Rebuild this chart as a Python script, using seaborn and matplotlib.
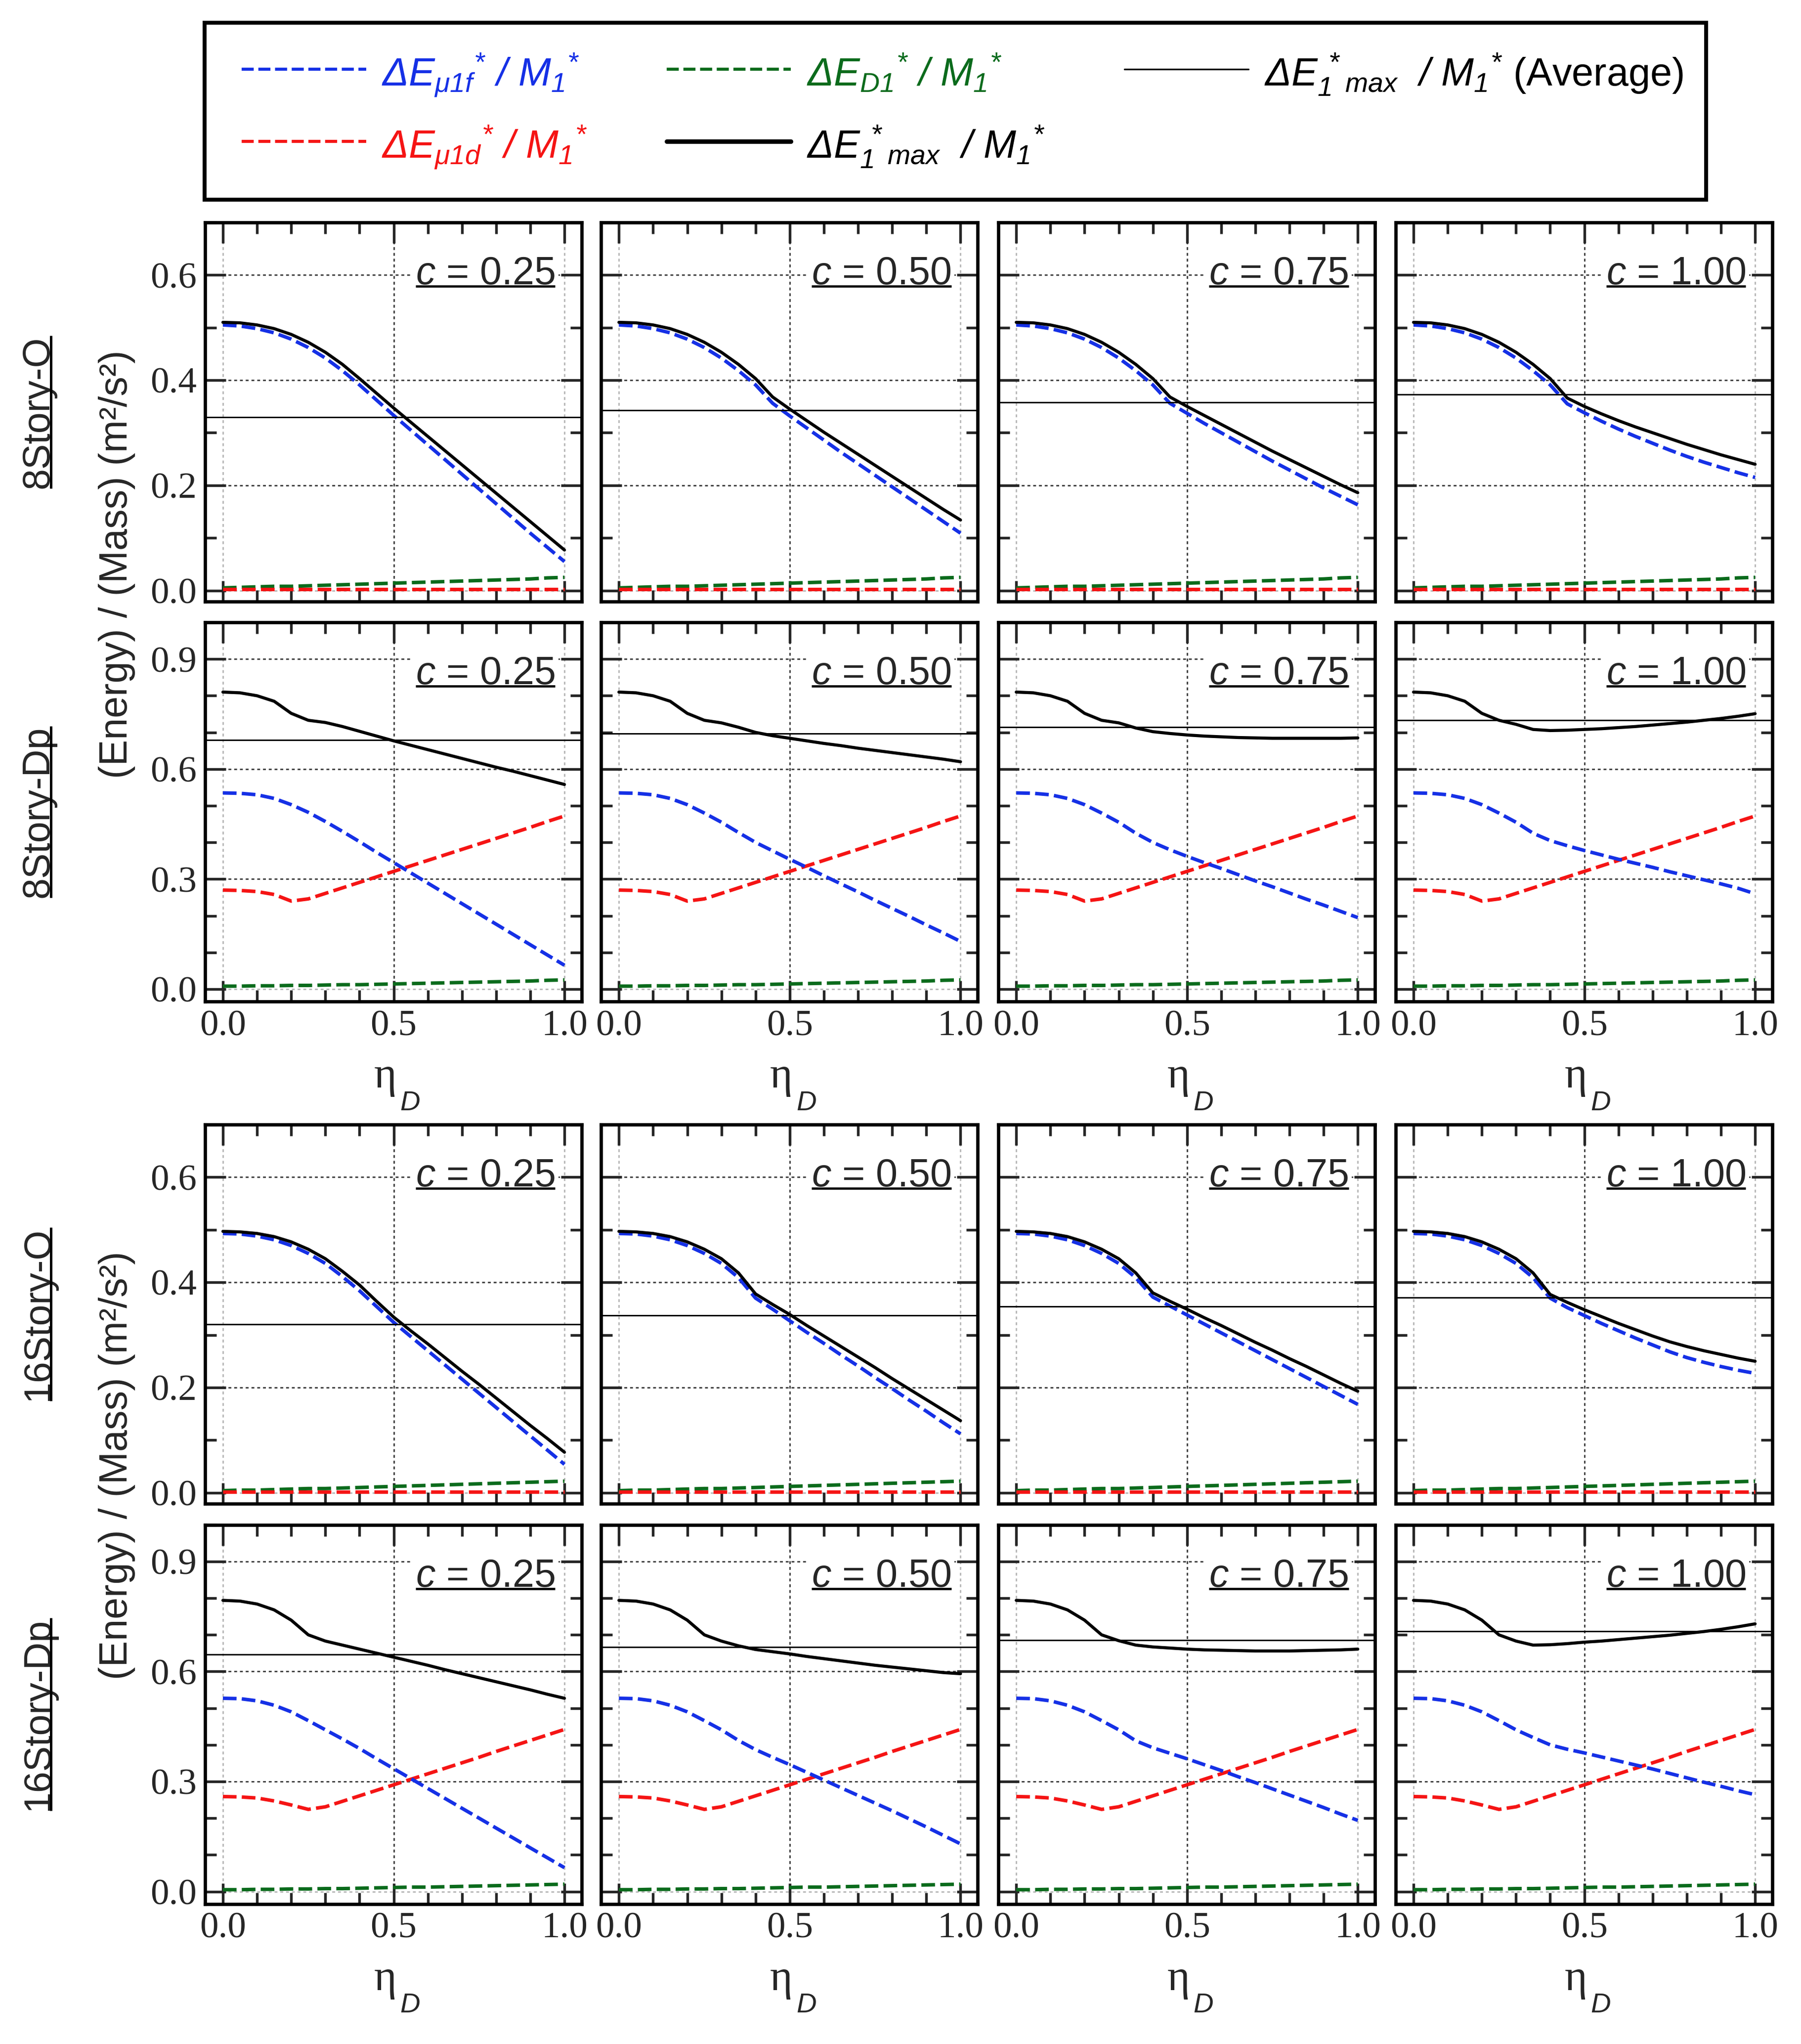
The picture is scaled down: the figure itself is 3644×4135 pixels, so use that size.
import matplotlib
matplotlib.use('Agg')
import matplotlib.pyplot as plt
import seaborn as sns
from matplotlib import font_manager
from matplotlib.lines import Line2D
from matplotlib.patches import Rectangle
from matplotlib.ticker import MultipleLocator, FormatStrFormatter

# eta_D grid shared by every panel
ETA = [0.00, 0.05, 0.10, 0.15, 0.20, 0.25, 0.30, 0.35, 0.40, 0.45, 0.50,
       0.55, 0.60, 0.65, 0.70, 0.75, 0.80, 0.85, 0.90, 0.95, 1.00]
C_TEXT = ['0.25', '0.50', '0.75', '1.00']

# ---- 8Story-O ----
O8_MAX = [
    [0.510, 0.509, 0.505, 0.498, 0.487, 0.472, 0.453, 0.430, 0.403, 0.375, 0.347,
     0.320, 0.293, 0.266, 0.239, 0.212, 0.185, 0.158, 0.131, 0.104, 0.077],
    [0.510, 0.509, 0.505, 0.498, 0.487, 0.472, 0.453, 0.430, 0.403, 0.368, 0.345,
     0.323, 0.301, 0.280, 0.259, 0.238, 0.217, 0.196, 0.175, 0.154, 0.134],
    [0.510, 0.509, 0.505, 0.498, 0.487, 0.472, 0.453, 0.430, 0.403, 0.368, 0.350,
     0.333, 0.316, 0.299, 0.282, 0.265, 0.249, 0.233, 0.217, 0.201, 0.186],
    [0.510, 0.509, 0.505, 0.498, 0.487, 0.472, 0.453, 0.430, 0.403, 0.366, 0.350,
     0.336, 0.323, 0.311, 0.300, 0.289, 0.278, 0.268, 0.258, 0.249, 0.240],
]
O8_MU1F = [
    [0.505, 0.503, 0.498, 0.490, 0.478, 0.462, 0.442, 0.418, 0.391, 0.362, 0.333,
     0.305, 0.277, 0.249, 0.221, 0.193, 0.165, 0.137, 0.109, 0.082, 0.055],
    [0.505, 0.503, 0.498, 0.490, 0.478, 0.462, 0.442, 0.418, 0.391, 0.356, 0.332,
     0.309, 0.286, 0.263, 0.241, 0.219, 0.197, 0.175, 0.153, 0.131, 0.109],
    [0.505, 0.503, 0.498, 0.490, 0.478, 0.462, 0.442, 0.418, 0.391, 0.356, 0.337,
     0.318, 0.300, 0.282, 0.264, 0.246, 0.229, 0.212, 0.195, 0.179, 0.163],
    [0.505, 0.503, 0.498, 0.490, 0.478, 0.462, 0.442, 0.418, 0.391, 0.355, 0.338,
     0.322, 0.307, 0.293, 0.280, 0.267, 0.255, 0.244, 0.234, 0.224, 0.215],
]
O8_MU1D = [0.002, 0.002, 0.002, 0.002, 0.002, 0.002, 0.002, 0.002, 0.002, 0.002, 0.002,
           0.002, 0.002, 0.002, 0.002, 0.002, 0.002, 0.002, 0.002, 0.002, 0.002]
O8_D1 = [0.005, 0.006, 0.007, 0.008, 0.008, 0.009, 0.010, 0.011, 0.012, 0.013, 0.014,
         0.015, 0.016, 0.017, 0.018, 0.019, 0.020, 0.021, 0.022, 0.024, 0.025]
O8_AVG = [0.330, 0.343, 0.358, 0.373]

# ---- 8Story-Dp ----
D8_MAX = [
    [0.810, 0.808, 0.800, 0.785, 0.752, 0.733, 0.727, 0.716, 0.703, 0.690, 0.677,
     0.665, 0.653, 0.641, 0.629, 0.617, 0.605, 0.594, 0.582, 0.570, 0.558],
    [0.810, 0.808, 0.800, 0.785, 0.752, 0.733, 0.726, 0.714, 0.700, 0.691, 0.684,
     0.677, 0.670, 0.664, 0.657, 0.651, 0.645, 0.639, 0.633, 0.627, 0.620],
    [0.810, 0.808, 0.800, 0.785, 0.752, 0.733, 0.726, 0.712, 0.702, 0.697, 0.693,
     0.690, 0.688, 0.686, 0.685, 0.684, 0.684, 0.684, 0.684, 0.684, 0.685],
    [0.810, 0.808, 0.800, 0.785, 0.752, 0.733, 0.722, 0.708, 0.705, 0.706, 0.708,
     0.710, 0.713, 0.716, 0.720, 0.724, 0.728, 0.733, 0.738, 0.744, 0.751],
]
D8_MU1F = [
    [0.535, 0.534, 0.530, 0.520, 0.503, 0.482, 0.457, 0.430, 0.402, 0.373, 0.345,
     0.317, 0.289, 0.261, 0.233, 0.205, 0.177, 0.149, 0.121, 0.093, 0.065],
    [0.535, 0.534, 0.530, 0.520, 0.503, 0.480, 0.455, 0.427, 0.400, 0.377, 0.354,
     0.332, 0.309, 0.287, 0.265, 0.242, 0.220, 0.198, 0.175, 0.153, 0.130],
    [0.535, 0.534, 0.530, 0.520, 0.503, 0.480, 0.455, 0.425, 0.400, 0.380, 0.362,
     0.345, 0.329, 0.312, 0.295, 0.279, 0.262, 0.245, 0.229, 0.212, 0.195],
    [0.535, 0.534, 0.530, 0.520, 0.503, 0.480, 0.455, 0.425, 0.405, 0.391, 0.378,
     0.366, 0.354, 0.343, 0.332, 0.320, 0.309, 0.298, 0.287, 0.275, 0.260],
]
D8_MU1D = [0.270, 0.269, 0.266, 0.258, 0.240, 0.246, 0.261, 0.276, 0.291, 0.306, 0.321,
           0.336, 0.351, 0.366, 0.381, 0.396, 0.411, 0.426, 0.441, 0.457, 0.472]
D8_D1 = [0.008, 0.008, 0.009, 0.009, 0.010, 0.010, 0.011, 0.012, 0.012, 0.013, 0.014,
         0.015, 0.016, 0.017, 0.018, 0.019, 0.020, 0.021, 0.022, 0.024, 0.025]
D8_AVG = [0.679, 0.697, 0.714, 0.733]

# ---- 16Story-O ----
O16_MAX = [
    [0.497, 0.496, 0.493, 0.487, 0.477, 0.463, 0.445, 0.421, 0.395, 0.364, 0.334,
     0.308, 0.283, 0.257, 0.231, 0.206, 0.180, 0.154, 0.128, 0.103, 0.077],
    [0.497, 0.496, 0.493, 0.487, 0.477, 0.463, 0.445, 0.418, 0.378, 0.358, 0.339,
     0.318, 0.298, 0.278, 0.258, 0.238, 0.217, 0.197, 0.177, 0.157, 0.137],
    [0.497, 0.496, 0.493, 0.487, 0.477, 0.463, 0.445, 0.418, 0.380, 0.364, 0.349,
     0.333, 0.318, 0.302, 0.286, 0.271, 0.255, 0.240, 0.224, 0.208, 0.193],
    [0.497, 0.496, 0.493, 0.487, 0.477, 0.463, 0.445, 0.418, 0.377, 0.362, 0.348,
     0.335, 0.322, 0.310, 0.298, 0.287, 0.278, 0.270, 0.263, 0.256, 0.250],
]
O16_MU1F = [
    [0.493, 0.492, 0.488, 0.481, 0.470, 0.455, 0.436, 0.411, 0.384, 0.354, 0.324,
     0.297, 0.270, 0.243, 0.216, 0.189, 0.162, 0.135, 0.108, 0.081, 0.054],
    [0.493, 0.492, 0.488, 0.481, 0.470, 0.455, 0.436, 0.409, 0.370, 0.349, 0.327,
     0.305, 0.284, 0.262, 0.241, 0.219, 0.198, 0.176, 0.155, 0.133, 0.112],
    [0.493, 0.492, 0.488, 0.481, 0.470, 0.455, 0.436, 0.409, 0.372, 0.355, 0.338,
     0.321, 0.304, 0.287, 0.270, 0.253, 0.236, 0.219, 0.202, 0.185, 0.168],
    [0.493, 0.492, 0.488, 0.481, 0.470, 0.455, 0.436, 0.409, 0.370, 0.352, 0.337,
     0.322, 0.308, 0.294, 0.281, 0.268, 0.257, 0.248, 0.240, 0.233, 0.227],
]
O16_MU1D = [0.002, 0.002, 0.002, 0.002, 0.002, 0.002, 0.002, 0.002, 0.002, 0.002, 0.002,
            0.002, 0.002, 0.002, 0.002, 0.002, 0.002, 0.002, 0.002, 0.002, 0.002]
O16_D1 = [0.004, 0.005, 0.005, 0.006, 0.007, 0.008, 0.008, 0.009, 0.010, 0.011, 0.012,
          0.013, 0.014, 0.015, 0.016, 0.017, 0.018, 0.019, 0.020, 0.021, 0.022]
O16_AVG = [0.320, 0.337, 0.354, 0.371]

# ---- 16Story-Dp ----
D16_MAX = [
    [0.794, 0.792, 0.784, 0.768, 0.740, 0.700, 0.683, 0.672, 0.661, 0.650, 0.639,
     0.628, 0.617, 0.605, 0.594, 0.583, 0.572, 0.561, 0.550, 0.538, 0.527],
    [0.794, 0.792, 0.784, 0.768, 0.740, 0.700, 0.683, 0.670, 0.660, 0.654, 0.648,
     0.641, 0.635, 0.629, 0.623, 0.617, 0.612, 0.607, 0.602, 0.597, 0.594],
    [0.794, 0.792, 0.784, 0.768, 0.740, 0.700, 0.684, 0.672, 0.667, 0.664, 0.661,
     0.659, 0.658, 0.657, 0.656, 0.656, 0.656, 0.657, 0.658, 0.659, 0.661],
    [0.794, 0.792, 0.784, 0.768, 0.740, 0.700, 0.683, 0.672, 0.673, 0.676, 0.680,
     0.683, 0.687, 0.691, 0.695, 0.699, 0.704, 0.709, 0.715, 0.722, 0.730],
]
D16_MU1F = [
    [0.527, 0.526, 0.520, 0.508, 0.490, 0.466, 0.441, 0.416, 0.390, 0.362, 0.335,
     0.308, 0.281, 0.254, 0.227, 0.200, 0.173, 0.146, 0.119, 0.092, 0.065],
    [0.527, 0.526, 0.520, 0.508, 0.490, 0.466, 0.441, 0.412, 0.387, 0.366, 0.346,
     0.325, 0.304, 0.283, 0.262, 0.241, 0.220, 0.198, 0.176, 0.153, 0.130],
    [0.527, 0.526, 0.520, 0.508, 0.490, 0.466, 0.441, 0.411, 0.392, 0.377, 0.362,
     0.346, 0.330, 0.313, 0.297, 0.280, 0.263, 0.246, 0.229, 0.211, 0.194],
    [0.527, 0.526, 0.520, 0.508, 0.490, 0.466, 0.441, 0.420, 0.400, 0.388, 0.378,
     0.367, 0.356, 0.345, 0.334, 0.322, 0.310, 0.298, 0.287, 0.275, 0.264],
]
D16_MU1D = [0.259, 0.258, 0.255, 0.247, 0.236, 0.224, 0.231, 0.246, 0.261, 0.276, 0.291,
            0.306, 0.321, 0.336, 0.351, 0.366, 0.382, 0.397, 0.412, 0.427, 0.442]
D16_D1 = [0.005, 0.005, 0.006, 0.006, 0.007, 0.007, 0.008, 0.008, 0.009, 0.010, 0.011,
          0.012, 0.012, 0.013, 0.014, 0.015, 0.016, 0.017, 0.018, 0.019, 0.020]
D16_AVG = [0.647, 0.667, 0.685, 0.710]

PANELS = [
    ('8Story-O', O8_MU1F, O8_MU1D, O8_D1, O8_MAX, O8_AVG),
    ('8Story-Dp', D8_MU1F, D8_MU1D, D8_D1, D8_MAX, D8_AVG),
    ('16Story-O', O16_MU1F, O16_MU1D, O16_D1, O16_MAX, O16_AVG),
    ('16Story-Dp', D16_MU1F, D16_MU1D, D16_D1, D16_MAX, D16_AVG),
]

BLUE, RED, GREEN = '#1530e6', '#f51414', '#0b6b1c'
DASH = (0, (3.9, 1.5))
GRID_DARK, GRID_LIGHT = '0.25', '0.72'
GRID_LS = (0, (2, 2))

sns.set_style('ticks')
_names = {f.name for f in font_manager.fontManager.ttflist}
NARROW = 'Liberation Sans Narrow' if 'Liberation Sans Narrow' in _names else 'Liberation Sans'
YLAB_SIZE = 22 if NARROW == 'Liberation Sans Narrow' else 19
SERIF = 'Liberation Serif' if 'Liberation Serif' in _names else 'DejaVu Serif'
plt.rcParams.update({
    'font.family': [SERIF, 'DejaVu Serif'],
    'mathtext.fontset': 'custom',
    'mathtext.rm': 'Liberation Sans:italic',
    'mathtext.it': 'Liberation Sans:italic',
    'mathtext.bf': 'Liberation Sans:bold',
    'axes.linewidth': 1.6,
    'axes.edgecolor': 'black',
})
SANS = ['Liberation Sans', 'DejaVu Sans']

fig = plt.figure(figsize=(3644 / 300, 4135 / 300), dpi=300)

LEFTS = [0.1139, 0.3338, 0.5544, 0.7750]
TOPS = [0.1088, 0.3045, 0.5502, 0.7460]
W, H = 0.2090, 0.1855

c_labels = []
for r, (name, mu1f, mu1d, d1, emax, avg) in enumerate(PANELS):
    is_dp = r % 2 == 1
    yticks = [0.0, 0.3, 0.6, 0.9] if is_dp else [0.0, 0.2, 0.4, 0.6]
    for c in range(4):
        ax = fig.add_axes([LEFTS[c], 1 - TOPS[r] - H, W, H])
        ax.set_facecolor('white')

        # dotted reference grid (edge lines lighter, as in the original)
        for xv in [0.0, 0.5, 1.0]:
            ax.axvline(xv, color=GRID_DARK if xv == 0.5 else GRID_LIGHT,
                       ls=GRID_LS, lw=0.7, zorder=0.5)
        for yv in yticks:
            ax.axhline(yv, color=GRID_LIGHT if yv == 0.0 else GRID_DARK,
                       ls=GRID_LS, lw=0.7, zorder=0.5)

        sns.lineplot(x=ETA, y=d1, ax=ax, color=GREEN, lw=1.7, linestyle=DASH)
        sns.lineplot(x=ETA, y=mu1d, ax=ax, color=RED, lw=1.7, linestyle=DASH)
        sns.lineplot(x=ETA, y=mu1f[c], ax=ax, color=BLUE, lw=1.7, linestyle=DASH)
        sns.lineplot(x=ETA, y=emax[c], ax=ax, color='black', lw=1.5)
        ax.axhline(avg[c], color='black', lw=0.7)

        ax.set_xlim(-0.052, 1.05)
        if is_dp:
            ax.set_ylim(-0.034, 1.0)
            ax.yaxis.set_major_locator(MultipleLocator(0.3))
        else:
            ax.set_ylim(-0.021, 0.70)
            ax.yaxis.set_major_locator(MultipleLocator(0.2))
        ax.yaxis.set_minor_locator(MultipleLocator(0.1))
        ax.xaxis.set_major_locator(MultipleLocator(0.5))
        ax.xaxis.set_minor_locator(MultipleLocator(0.1))
        ax.xaxis.set_major_formatter(FormatStrFormatter('%.1f'))
        ax.yaxis.set_major_formatter(FormatStrFormatter('%.1f'))
        ax.tick_params(which='both', direction='in', top=True, right=True,
                       width=1.3, labelsize=18, pad=4, labelfontfamily=SERIF,
                       labelbottom=is_dp, labelleft=(c == 0))
        ax.tick_params(which='major', length=10)
        ax.tick_params(which='minor', length=5.5)
        for sp in ax.spines.values():
            sp.set_linewidth(1.6)
            sp.set_zorder(6)

        t = ax.text(0.93, 0.837, r'$c$ = ' + C_TEXT[c], transform=ax.transAxes,
                    ha='right', va='baseline', fontsize=19, family=SANS, zorder=5,
                    bbox=dict(facecolor='white', edgecolor='none', pad=1.5))
        c_labels.append(t)

        if is_dp:
            ax.text(0.508, -0.227, 'η', transform=ax.transAxes, ha='right', va='baseline',
                    fontsize=21, family=[SERIF, 'DejaVu Serif'])
            ax.text(0.518, -0.286, 'D', transform=ax.transAxes, ha='left', va='baseline',
                    fontsize=13.5, family=SANS, style='italic')

# row labels and shared y labels
row_labels = []
for r, panel in enumerate(PANELS):
    yc = 1 - TOPS[r] - H / 2
    t = fig.text(0.0269, yc, panel[0], rotation=90, rotation_mode='anchor',
                 ha='center', va='baseline', fontsize=18.5, family=SANS)
    row_labels.append(t)

for yc in [0.724, 0.283]:
    fig.text(0.0705, yc, '(Energy) / (Mass) (m²/s²)', rotation=90, rotation_mode='anchor',
             ha='center', va='baseline', fontsize=YLAB_SIZE, family=[NARROW, 'DejaVu Sans'])

# legend box drawn in figure coordinates
fig.add_artist(Rectangle((0.1136, 0.9023), 0.8337, 0.0866, transform=fig.transFigure,
                         fill=False, edgecolor='black', lw=1.9))
LEG = [
    (0.1342, 0.2033, 0.2119, 0.9661, 0.9579, BLUE, DASH, 1.5,
     r'$\Delta E_{\mu 1f}{}^{*}\ /\ M_{1}{}^{*}$'),
    (0.1342, 0.2033, 0.2119, 0.9308, 0.9226, RED, DASH, 1.5,
     r'$\Delta E_{\mu 1d}{}^{*}\ /\ M_{1}{}^{*}$'),
    (0.3702, 0.4391, 0.4479, 0.9661, 0.9579, GREEN, DASH, 1.5,
     r'$\Delta E_{D1}{}^{*}\ /\ M_{1}{}^{*}$'),
    (0.3702, 0.4391, 0.4479, 0.9308, 0.9226, 'black', '-', 2.2,
     r'$\Delta E_{1}^{\,*}{}_{max}\ \ /\ M_{1}{}^{*}$'),
    (0.6243, 0.6932, 0.7020, 0.9661, 0.9579, 'black', '-', 0.8,
     r'$\Delta E_{1}^{\,*}{}_{max}\ \ /\ M_{1}{}^{*}$ (Average)'),
]
for x0, x1, xt, yl, yb, col, ls, lw, lab in LEG:
    fig.add_artist(Line2D([x0, x1], [yl, yl], transform=fig.transFigure,
                          color=col, ls=ls, lw=lw))
    fig.text(xt, yb, lab, color=col, fontsize=19, family=SANS, ha='left', va='baseline')

# underlines
fig.canvas.draw()
renderer = fig.canvas.get_renderer()
inv = fig.transFigure.inverted()


def underline(t, off, lw):
    bb = t.get_window_extent(renderer)
    px, py = t.get_transform().transform(t.get_position())
    if t.get_rotation() == 90:
        (x0, y0), (x1, y1) = inv.transform([(px + off, bb.y0), (px + off, bb.y1)])
    else:
        (x0, y0), (x1, y1) = inv.transform([(bb.x0, py - off), (bb.x1, py - off)])
    fig.add_artist(Line2D([x0, x1], [y0, y1], transform=fig.transFigure,
                          color='black', lw=lw, solid_capstyle='butt', zorder=10))


for t in c_labels:
    underline(t, 4, 1.1)
for t in row_labels:
    underline(t, 5, 1.2)

fig.savefig('out.png', dpi=300, facecolor='white')
